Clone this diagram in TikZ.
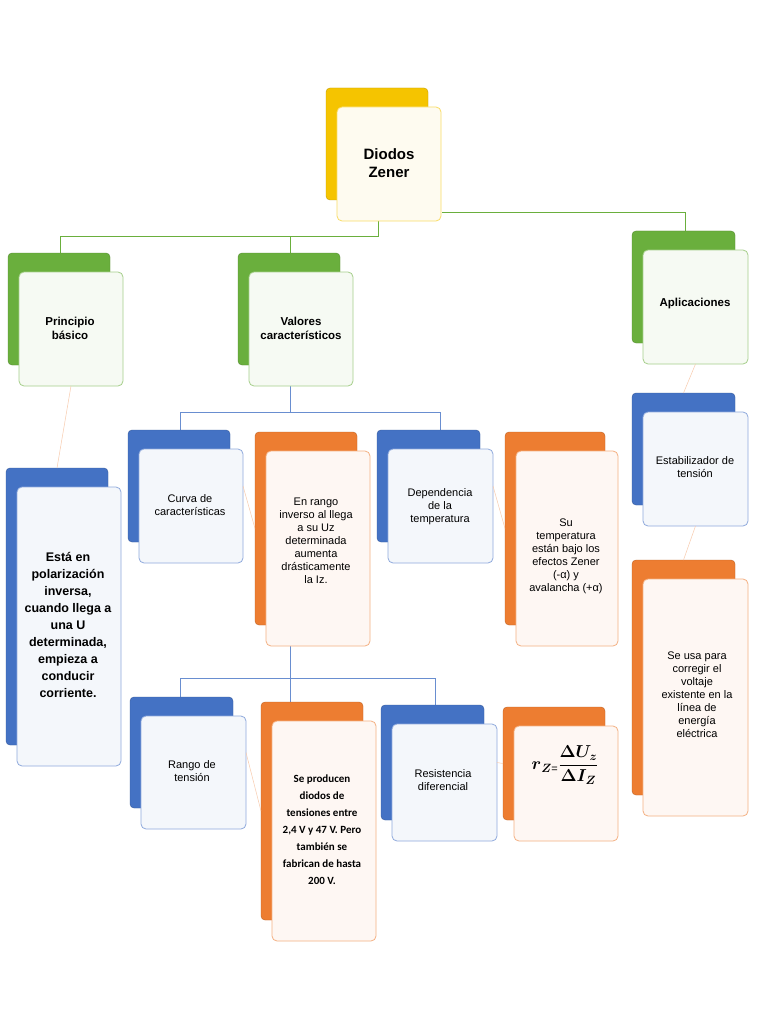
\documentclass[tikz,border=0pt]{standalone}
\usepackage{fontspec}
\setmainfont{Liberation Sans}
\newfontfamily\carl{Carlito}
\usepackage{amsmath}
\definecolor{cgold}{HTML}{F5C400}
\definecolor{cgreen}{HTML}{6AAF3D}
\definecolor{cblue}{HTML}{4472C4}
\definecolor{corange}{HTML}{ED7D31}
\tikzset{
  back/.style={fill=#1, draw=#1!80!black, rounded corners=4pt},
  front/.style={fill=#1!6!white, draw=#1!60!white, rounded corners=5pt, line width=0.8pt},
  txt/.style={align=center, font=\fontsize{11}{13}\selectfont, inner sep=0pt},
  btxt/.style={align=center, font=\bfseries\fontsize{11.5}{14}\selectfont, inner sep=0pt},
  gline/.style={draw=cgreen, line width=0.8pt},
  bline/.style={draw=cblue!80, line width=0.8pt},
  fline/.style={draw=corange!40, line width=0.5pt},
}
\newcommand{\mybox}[6]{% color, x1,y1,x2,y2, name ; front offset
  \fill[back=#1] (#2,#3) rectangle (#4,#5);
  \draw[front=#1] (#2+11,#3+19) rectangle (#4+13,#5+21);
  \coordinate (#6-t) at ({(#2+#4)/2},#3);
  \coordinate (#6-b) at ({(#2+#4)/2+12},#5+21);
  \coordinate (#6-l) at (#2,{(#3+#5)/2});
  \coordinate (#6-r) at (#4+13,{(#3+#5)/2});
}
\begin{document}
\begin{tikzpicture}[x=1pt,y=-1pt]
\useasboundingbox (0,0) rectangle (768,1024);
\fill[white] (0,0) rectangle (768,1024);
% connectors
\draw[gline] (378,220) -- (378,236) -- (60,236) -- (60,253);
\draw[gline] (290,236) -- (290,253);
\draw[gline] (442,212) -- (685,212) -- (685,231);
\draw[bline] (290,386) -- (290,412) -- (180,412) -- (180,430);
\draw[bline] (290,412) -- (440,412) -- (440,430);
\draw[bline] (290,645) -- (290,678) -- (180,678) -- (180,697);
\draw[bline] (290,678) -- (435,678) -- (435,705);
\draw[bline] (290,678) -- (290,702);
% boxes
\mybox{cgold}{326}{88}{428}{200}{dz}
\mybox{cgreen}{8}{253}{110}{365}{pb}
\mybox{cgreen}{238}{253}{340}{365}{vc}
\mybox{cgreen}{632}{231}{735}{343}{ap}
\mybox{cblue}{128}{430}{230}{542}{cc}
\mybox{corange}{255}{432}{357}{625}{er}
\mybox{cblue}{377}{430}{480}{542}{dt}
\mybox{corange}{505}{432}{605}{625}{st}
\mybox{cblue}{632}{393}{735}{505}{es}
\mybox{corange}{632}{560}{735}{795}{su}
\mybox{cblue}{6}{468}{108}{745}{ee}
\mybox{cblue}{130}{697}{233}{808}{rt}
\mybox{corange}{261}{702}{363}{920}{sp}
\mybox{cblue}{381}{705}{484}{820}{rd}
\mybox{corange}{503}{707}{605}{820}{rz}
% faint links
\draw[fline] (pb-b) -- (ee-t);
\draw[fline] (cc-r) -- (er-l);
\draw[fline] (dt-r) -- (st-l);
\draw[fline] (ap-b) -- (es-t);
\draw[fline] (es-b) -- (su-t);
\draw[fline] (rt-r) -- (sp-l);
\draw[fline] (rd-r) -- (rz-l);
% texts
\node[btxt, font=\bfseries\fontsize{15}{18}\selectfont] (tdz) at (389,163) {Diodos\\Zener};
\node[btxt] (tpb) at (70,328) {Principio\\básico};
\node[btxt] (tvc) at (301,328) {Valores\\característicos};
\node[btxt] (tap) at (695,304) {Aplicaciones};
\node[txt] (tcc) at (190,505) {Curva de\\características};
\node[txt] (ter) at (316,541) {En rango\\inverso al llega\\a su Uz\\determinada\\aumenta\\drásticamente\\la Iz.};
\node[txt] (tdt) at (440,507) {Dependencia\\de la\\temperatura};
\node[txt] (tst) at (566,556) {Su\\temperatura\\están bajo los\\efectos Zener\\(-α) y\\avalancha (+α)};
\node[txt] (tes) at (695,467) {Estabilizador de\\tensión};
\node[txt] (tsu) at (697,695) {Se usa para\\corregir el\\voltaje\\existente en la\\línea de\\energía\\eléctrica};
\node[btxt, font=\bfseries\fontsize{12.5}{17}\selectfont] (tee) at (68,625) {Está en\\polarización\\inversa,\\cuando llega a\\una U\\determinada,\\empieza a\\conducir\\corriente.};
\node[txt] (trt) at (192,771) {Rango de\\tensión};
\node[txt, font=\carl\bfseries\fontsize{11}{17}\selectfont] (tsp) at (322,830) {Se producen\\diodos de\\tensiones entre\\2,4 V y 47 V. Pero\\también se\\fabrican de hasta\\200 V.};
\node[txt] (trd) at (443,780) {Resistencia\\diferencial};
\node[inner sep=0pt] (trz) at (565,765) {\fontsize{17}{20}\selectfont$\boldsymbol{r}_{\boldsymbol{Z}\text{\fontsize{11}{11}\selectfont=}}\dfrac{\boldsymbol{\Delta U_z}}{\boldsymbol{\Delta I_Z}}$};
\end{tikzpicture}
\end{document}
